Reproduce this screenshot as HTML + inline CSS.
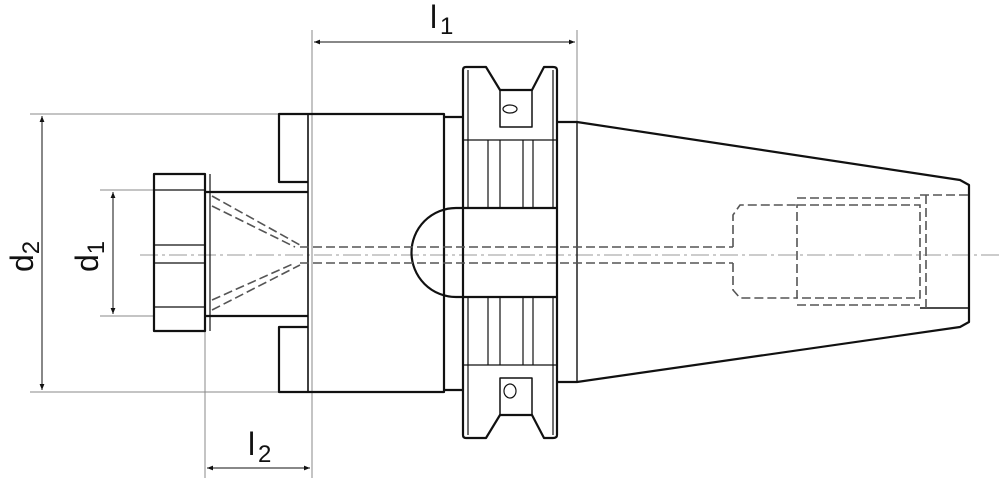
<!DOCTYPE html>
<html><head><meta charset="utf-8"><style>
html,body{margin:0;padding:0;background:#fff}
svg{display:block}
text{font-family:"Liberation Sans",sans-serif;fill:#111}
</style></head><body>
<svg width="999" height="481" viewBox="0 0 999 481" xmlns="http://www.w3.org/2000/svg">
<defs>
<marker id="a" viewBox="0 0 10 10" refX="10" refY="5" markerWidth="12" markerHeight="6" orient="auto-start-reverse" markerUnits="userSpaceOnUse"><path d="M0,1 L10,5 L0,9 z" fill="#111"/></marker>
</defs>
<!-- thin dimension / extension lines -->
<g stroke="#888" stroke-width="1" fill="none">
<line x1="312" y1="30" x2="312" y2="478"/>
<line x1="577" y1="30" x2="577" y2="122"/>
<line x1="30" y1="114" x2="279" y2="114"/>
<line x1="30" y1="392" x2="279" y2="392"/>
<line x1="100" y1="190" x2="154" y2="190"/>
<line x1="100" y1="316" x2="154" y2="316"/>
<line x1="205" y1="316" x2="205" y2="478"/>
</g>
<g stroke="#111" stroke-width="1" fill="none">
<line x1="314" y1="42" x2="575" y2="42" marker-start="url(#a)" marker-end="url(#a)"/>
<line x1="42" y1="116" x2="42" y2="390" marker-start="url(#a)" marker-end="url(#a)"/>
<line x1="113" y1="192" x2="113" y2="314" marker-start="url(#a)" marker-end="url(#a)"/>
<line x1="207" y1="468" x2="310" y2="468" marker-start="url(#a)" marker-end="url(#a)"/>
</g>
<!-- centerline -->
<line x1="140" y1="255" x2="999" y2="255" stroke="#999" stroke-width="1" stroke-dasharray="18,4,3,4"/>
<!-- main outlines -->
<g stroke="#111" stroke-width="2.2" fill="none" stroke-linejoin="round">
<rect x="154" y="174" width="51" height="157"/>
<line x1="205" y1="192" x2="308" y2="192"/>
<line x1="205" y1="316" x2="308" y2="316"/>
<path d="M308,182 L279,182 L279,114 L444,114 L444,392 L279,392 L279,327 L308,327"/>
<line x1="308" y1="114" x2="308" y2="392" stroke-width="1.6"/>
<path d="M444,117 L463,117 M444,390 L463,390"/>
<path d="M463,117 L463,70 Q463,67 466,67 L486,67 L500,90 L532,90 L544,67 L553,67 Q557,67 557,70 L557,435 Q557,438 553,438 L544,438 L532,415 L500,415 L486,438 L466,438 Q463,438 463,435 Z"/>
<path d="M500,90 L500,127 L532,127 L532,90 M500,415 L500,378 L532,378 L532,415" stroke-width="1.5"/>
<path d="M557,122 L577,122 L960,180 L969,185 L969,322 L960,327 L577,382 L557,382"/>
<line x1="577" y1="122" x2="577" y2="382" stroke-width="1.4"/>
<path d="M557,208 L456,208 A44,44 0 0 0 456,297 L557,297" />
<path d="M920,308 L969,308" stroke-width="1.5"/>
</g>
<g stroke="#111" stroke-width="1.2" fill="none">
<line x1="210" y1="174" x2="210" y2="331"/>
<line x1="154" y1="190" x2="205" y2="190"/>
<line x1="154" y1="245" x2="205" y2="245"/>
<line x1="154" y1="263" x2="205" y2="263"/>
<line x1="154" y1="307" x2="205" y2="307"/>
<line x1="463" y1="140" x2="557" y2="140"/>
<line x1="463" y1="365" x2="557" y2="365"/>
<line x1="468" y1="140" x2="468" y2="208"/><line x1="488" y1="140" x2="488" y2="208"/>
<line x1="500" y1="140" x2="500" y2="208"/><line x1="523" y1="140" x2="523" y2="208"/>
<line x1="533" y1="140" x2="533" y2="208"/><line x1="553" y1="140" x2="553" y2="208"/>
<line x1="468" y1="297" x2="468" y2="365"/><line x1="488" y1="297" x2="488" y2="365"/>
<line x1="500" y1="297" x2="500" y2="365"/><line x1="523" y1="297" x2="523" y2="365"/>
<line x1="533" y1="297" x2="533" y2="365"/><line x1="553" y1="297" x2="553" y2="365"/>
<line x1="468" y1="70" x2="468" y2="140"/><line x1="553" y1="70" x2="553" y2="140"/>
<line x1="468" y1="365" x2="468" y2="435"/><line x1="553" y1="365" x2="553" y2="435"/>
<ellipse cx="510" cy="109" rx="7" ry="4"/>
<ellipse cx="510" cy="391" rx="6" ry="7"/>
</g>
<!-- hidden lines -->
<g stroke="#555" stroke-width="1.6" fill="none" stroke-dasharray="9,4">
<path d="M212,196 L300,245 M212,206 L295,247"/>
<path d="M212,310 L300,265 M212,300 L295,263"/>
<path d="M300,247 L733,247 M300,263 L733,263"/>
<path d="M733,247 L733,215 L740,205 L797,205 M733,263 L733,290 L740,298 L797,298"/>
<rect x="797" y="205" width="123" height="93"/>
<path d="M797,198 L920,198 M797,305 L920,305 M920,195 L969,195 M926,195 L926,308"/>
</g>
<!-- labels -->
<text x="430" y="28" font-size="32">l</text><text x="440" y="34" font-size="24">1</text>
<text x="248" y="455" font-size="32">l</text><text x="258" y="462" font-size="24">2</text>
<text transform="translate(33,272) rotate(-90)" font-size="32">d<tspan font-size="24" dy="6">2</tspan></text>
<text transform="translate(98,272) rotate(-90)" font-size="32">d<tspan font-size="24" dy="6">1</tspan></text>
</svg>
</body></html>
